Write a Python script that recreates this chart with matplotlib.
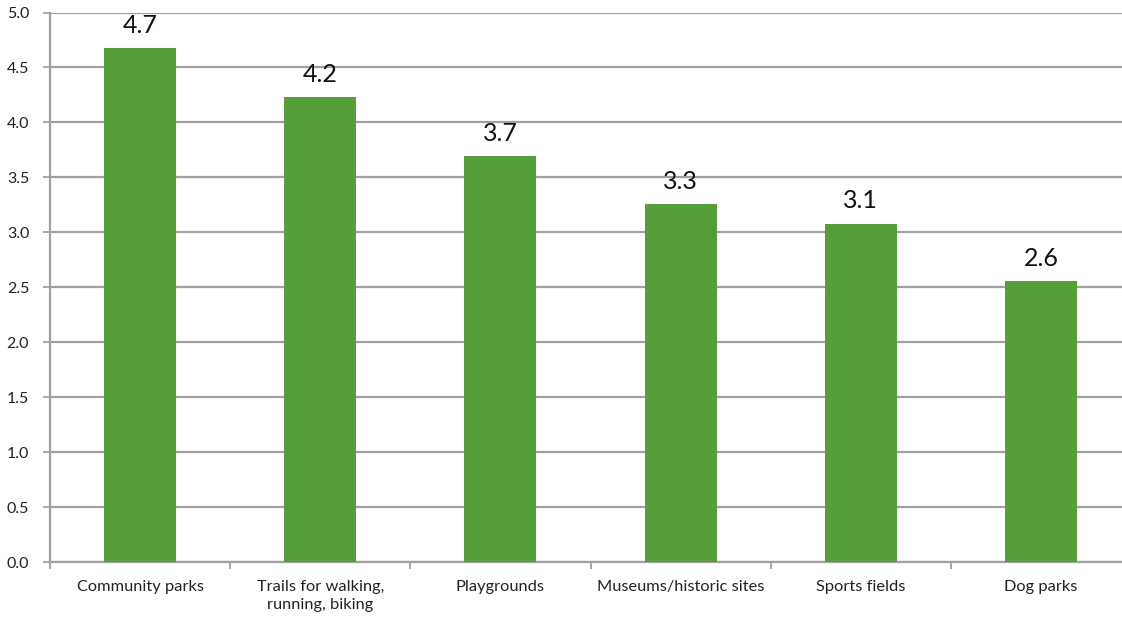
import matplotlib
matplotlib.use("Agg")
import matplotlib.pyplot as plt

categories = ["Community parks", "Trails for walking,\nrunning, biking", "Playgrounds",
              "Museums/historic sites", "Sports fields", "Dog parks"]
scores = [4.68, 4.23, 3.69, 3.26, 3.08, 2.56]
y_ticks = [0.0, 0.5, 1.0, 1.5, 2.0, 2.5, 3.0, 3.5, 4.0, 4.5, 5.0]

plt.rcParams['font.family'] = ['Lato', 'DejaVu Sans']

W, H = 1122, 619
fig = plt.figure(figsize=(W / 100, H / 100), dpi=100)
left, right, bottom, top = 50, 1131, 562, 12.5
ax = fig.add_axes([left / W, (H - bottom) / H, (right - left) / W, (bottom - top) / H])

grid_col = "#a0a0a0"
bar_col = "#559e3a"

x = list(range(len(categories)))
bars = ax.bar(x, scores, width=0.4, color=bar_col, zorder=3)

for xi, v in zip(x, scores):
    ax.annotate(f"{v:.1f}", (xi, v), xytext=(0, 8), textcoords="offset points",
                ha="center", va="bottom", fontsize=18, color="#111111")

ax.set_xlim(-0.5, len(categories) - 0.5)
ax.set_ylim(0, 5.0)
ax.set_yticks(y_ticks)
ax.set_yticklabels([f"{t:.1f}" for t in y_ticks])
ax.yaxis.grid(True, color=grid_col, linewidth=1.6, zorder=0)
ax.set_axisbelow(True)

ax.set_xticks(x)
ax.set_xticklabels(categories, fontsize=11.8, color="#222222", linespacing=1.35)
ax.tick_params(axis="x", length=0, pad=13)
# category boundary ticks
ax.set_xticks([i - 0.5 for i in range(len(categories) + 1)], minor=True)
ax.tick_params(axis="x", which="minor", length=5, width=1.3, color=grid_col)
ax.tick_params(axis="y", length=5, width=1.3, color=grid_col, pad=10,
               labelsize=11.5, labelcolor="#222222")

for s in ["top", "right"]:
    ax.spines[s].set_visible(False)
for s in ["left", "bottom"]:
    ax.spines[s].set_color(grid_col)
    ax.spines[s].set_linewidth(1.6)

fig.savefig("out.png", dpi=100)
